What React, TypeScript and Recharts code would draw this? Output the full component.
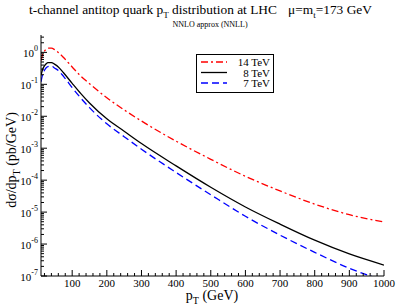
import { LineChart, Line, XAxis, YAxis } from 'recharts';

// transverse momentum grid (GeV)
const PT = [10, 15, 20, 25, 30, 40, 50, 60, 75, 100, 125, 150, 200, 250, 300, 400, 500, 600, 700, 800, 900, 1000];

// dσ/dpT (pb/GeV)
const XS_14TEV = [0.55, 0.87, 1.1, 1.26, 1.35, 1.35, 1.2, 1.0, 0.69, 0.35, 0.18, 0.105, 0.038, 0.0158, 0.0071, 1.66e-3, 4.5e-4, 1.32e-4, 4.6e-5, 1.78e-5, 8.3e-6, 4.9e-6];
const XS_8TEV = [0.19, 0.3, 0.38, 0.44, 0.48, 0.48, 0.42, 0.35, 0.23, 0.107, 0.051, 0.026, 8.3e-3, 3.4e-3, 1.4e-3, 2.8e-4, 6.0e-5, 1.45e-5, 4.2e-6, 1.32e-6, 4.9e-7, 2.2e-7];
const XS_7TEV = [0.12, 0.21, 0.275, 0.33, 0.36, 0.37, 0.32, 0.27, 0.178, 0.079, 0.037, 0.0186, 5.8e-3, 2.3e-3, 9.3e-4, 1.74e-4, 3.5e-5, 7.4e-6, 1.9e-6, 5.5e-7, 1.75e-7, 7.2e-8];

const SERIES = [
  { key: 's14', label: '14 TeV', color: '#ff0000', dash: '7 3 2 3' },
  { key: 's8', label: '8 TeV', color: '#000000', dash: undefined },
  { key: 's7', label: '7 TeV', color: '#0000ff', dash: '7 4' },
];

const Y_EXPONENTS = [-7, -6, -5, -4, -3, -2, -1, 0];

const data = PT.map((pt, i) => ({ pt, s14: XS_14TEV[i], s8: XS_8TEV[i], s7: XS_7TEV[i] }));

const xTicks: number[] = [];
for (let v = 20; v <= 1000; v += 20) xTicks.push(v);

const yTicks: number[] = [];
for (const e of Y_EXPONENTS) {
  for (let m = 1; m <= 9; m++) {
    const v = Number((m * Math.pow(10, e)).toPrecision(3));
    if (v <= 3.5) yTicks.push(v);
  }
}

const FONT = '"Liberation Serif", "DejaVu Serif", serif';

const isMajorY = (v: number) => {
  const l = Math.log10(v);
  return Math.abs(l - Math.round(l)) < 1e-6;
};

function XTick({ x, y, payload, top }: any) {
  const major = payload.value % 100 === 0;
  const len = major ? 6 : 3;
  return (
    <g>
      <line x1={x} x2={x} y1={y} y2={top ? y + len : y - len} stroke="#000" />
      {!top && major && (
        <text x={x} y={y + 11} textAnchor="middle" fontSize={11} fontFamily={FONT} fill="#000">
          {payload.value}
        </text>
      )}
    </g>
  );
}

function YTick({ x, y, payload, right }: any) {
  const major = isMajorY(payload.value);
  const len = major ? 6 : 3;
  const exp = Math.round(Math.log10(payload.value));
  return (
    <g>
      <line x1={x} x2={right ? x - len : x + len} y1={y} y2={y} stroke="#000" />
      {!right && major && (
        <text x={x - 3} y={y + 5} textAnchor="end" fontSize={11} fontFamily={FONT} fill="#000">
          10<tspan dy={-6} fontSize={8}>{exp}</tspan>
        </text>
      )}
    </g>
  );
}

function LegendBox({ x, y }: { x: number; y: number }) {
  return (
    <g transform={`translate(${x},${y})`}>
      <rect x={0.5} y={0.5} width={77} height={38} fill="#fff" stroke="#000" />
      {SERIES.map((s, i) => (
        <g key={s.key}>
          <line x1={5} x2={31} y1={8 + i * 10.5} y2={8 + i * 10.5} stroke={s.color} strokeWidth={1.3} strokeDasharray={s.dash} />
          <text x={74} y={12 + i * 10.5} textAnchor="end" fontSize={11} fontFamily={FONT} fill="#000">
            {s.label}
          </text>
        </g>
      ))}
    </g>
  );
}

export default function App() {
  return (
    <div style={{ position: 'fixed', left: 0, top: 0, width: 398, height: 308, background: '#fff' }}>
      <LineChart width={398} height={308} data={data} margin={{ top: 35, right: 14, bottom: 0, left: 0 }}>
        <XAxis
          xAxisId="b"
          dataKey="pt"
          type="number"
          domain={[10, 1000]}
          allowDataOverflow
          ticks={xTicks}
          interval={0}
          tickSize={0}
          tickMargin={0}
          height={32}
          stroke="#000"
          tick={<XTick />}
        />
        <XAxis
          xAxisId="t"
          orientation="top"
          dataKey="pt"
          type="number"
          domain={[10, 1000]}
          allowDataOverflow
          ticks={xTicks}
          interval={0}
          tickSize={0}
          tickMargin={0}
          height={0}
          stroke="#000"
          tick={<XTick top />}
        />
        <YAxis
          yAxisId="l"
          scale="log"
          domain={[1e-7, 3.5]}
          allowDataOverflow
          ticks={yTicks}
          interval={0}
          tickSize={0}
          tickMargin={0}
          width={41}
          stroke="#000"
          tick={<YTick />}
        />
        <YAxis
          yAxisId="r"
          orientation="right"
          scale="log"
          domain={[1e-7, 3.5]}
          allowDataOverflow
          ticks={yTicks}
          interval={0}
          tickSize={0}
          tickMargin={0}
          width={0}
          stroke="#000"
          tick={<YTick right />}
        />
        {SERIES.map((s) => (
          <Line
            key={s.key}
            xAxisId="b"
            yAxisId="l"
            dataKey={s.key}
            type="monotone"
            stroke={s.color}
            strokeWidth={1.3}
            strokeDasharray={s.dash}
            dot={false}
            isAnimationActive={false}
          />
        ))}
      </LineChart>
      <svg width={398} height={308} style={{ position: 'absolute', left: 0, top: 0, pointerEvents: 'none' }}>
        <LegendBox x={196} y={54} />
        <text x={29} y={14} fontSize={13.4} fontFamily={FONT} fill="#000">
          t-channel antitop quark p<tspan dy={4} fontSize={9}>T</tspan>
          <tspan dy={-4}> distribution at LHC</tspan>
          <tspan dx={11}>μ=m</tspan>
          <tspan dy={4} fontSize={9}>t</tspan>
          <tspan dy={-4}>=173 GeV</tspan>
        </text>
        <text x={210} y={27} textAnchor="middle" fontSize={8} fontFamily={FONT} fill="#000">
          NNLO approx (NNLL)
        </text>
        <text x={212} y={300} textAnchor="middle" fontSize={14} fontFamily={FONT} fill="#000">
          p<tspan dy={4} fontSize={10}>T</tspan>
          <tspan dy={-4}> (GeV)</tspan>
        </text>
        <text
          transform="translate(16,160) rotate(-90)"
          textAnchor="middle"
          fontSize={14}
          fontFamily={FONT}
          fill="#000"
        >
          dσ/dp<tspan dy={4} fontSize={10}>T</tspan>
          <tspan dy={-4}> (pb/GeV)</tspan>
        </text>
      </svg>
    </div>
  );
}
